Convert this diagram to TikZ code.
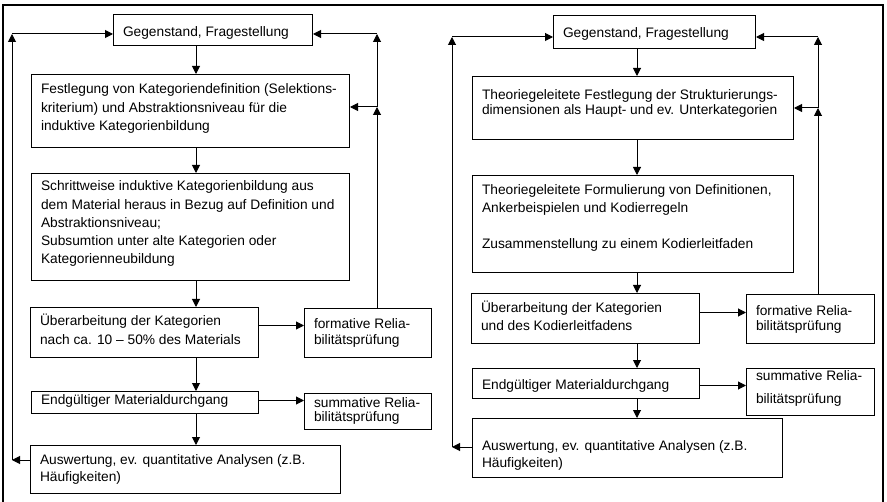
\documentclass[tikz,border=0pt]{standalone}
\usepackage{fontspec}
\setmainfont{Liberation Sans}
\usetikzlibrary{arrows.meta}

% Textfeld: Hoehe, Breite, Zeilenabstand, erste Grundlinie, Text
\newcommand{\feld}[5]{\parbox[c][#1][t]{#2}{\raggedright\fontsize{13.8}{#3}\selectfont\rule{0pt}{#4}#5}}

\tikzset{
    stufe/.style={draw, line width=1bp, anchor=north west, inner xsep=9.5bp, inner ysep=2bp},
    pfeil/.style={line width=1bp, -{Triangle[length=8bp,width=8bp]}},
}

\begin{document}
\begin{tikzpicture}[x=1bp, y=-1bp]
    \useasboundingbox (0,0) rectangle (887,502);
    \draw[line width=1.5bp] (3,502) -- (3,5) -- (883,5) -- (883,502);

    % links: induktive Kategorienbildung
    \node[stufe] (L1) at (113,14) {\feld{27bp}{180bp}{18.5bp}{19.6bp}{Gegenstand, Fragestellung}};
    \node[stufe] (L2) at (31,74) {\feld{69bp}{299bp}{18.7bp}{16.9bp}{Festlegung von Kategoriendefinition (Selektions-\\kriterium) und Abstraktionsniveau für die\\induktive Kategorienbildung}};
    \node[stufe] (L3) at (31,173) {\feld{103bp}{299bp}{18.3bp}{15.3bp}{Schrittweise induktive Kategorienbildung aus\\dem Material heraus in Bezug auf Definition und\\Abstraktionsniveau;\\Subsumtion unter alte Kategorien oder\\Kategorienneubildung}};
    \node[stufe] (L4) at (30,307) {\feld{46bp}{209bp}{18.3bp}{16.3bp}{Überarbeitung der Kategorien\\nach ca. 10 \textendash\ 50\% des Materials}};
    \node[stufe] (L5) at (304,308) {\feld{45bp}{108bp}{16bp}{17.6bp}{formative Relia-\\bilitätsprüfung}};
    \node[stufe] (L6) at (31,391) {\feld{18bp}{208bp}{18.5bp}{10.6bp}{Endgültiger Materialdurchgang}};
    \node[stufe] (L7) at (304,393) {\feld{32bp}{108bp}{14bp}{11.9bp}{summative Relia-\\bilitätsprüfung}};
    \node[stufe] (L8) at (30,445) {\feld{44bp}{291bp}{17bp}{16.6bp}{Auswertung, ev. quantitative Analysen (z.B.\\Häufigkeiten)}};

    \coordinate (lx) at (196,0);
    \coordinate (la1) at (12,460);
    \coordinate (la2) at (12,34);
    \coordinate (lb1) at (377,107);
    \coordinate (lb2) at (377,34);

    \draw[pfeil] (L1.south -| lx) -- (L2.north -| lx);
    \draw[pfeil] (L2.south -| lx) -- (L3.north -| lx);
    \draw[pfeil] (L3.south -| lx) -- (L4.north -| lx);
    \draw[pfeil] (L4.south -| lx) -- (L6.north -| lx);
    \draw[pfeil] (L6.south -| lx) -- (L8.north -| lx);
    \draw[pfeil] ([yshift=7bp]L4.east) -- ([yshift=7bp]L4.east -| L5.west);
    \draw[pfeil] ([yshift=2bp]L6.east) -- ([yshift=2bp]L6.east -| L7.west);
    % Rueckkopplung
    \draw[pfeil] (L8.west |- la1) -- (la1);
    \draw[pfeil] (la1) -- (la2);
    \draw[pfeil] (la2) -- (L1.west |- la2);
    \draw[pfeil] (L5.north -| lb1) -- (lb1);
    \draw[pfeil] (lb1) -- (L2.east |- lb1);
    \draw[pfeil] (lb1) -- (lb2);
    \draw[pfeil] (lb2) -- (L1.east |- lb2);

    % rechts: deduktive Kategorienanwendung
    \node[stufe] (R1) at (553,15) {\feld{29bp}{183bp}{18.5bp}{19.9bp}{Gegenstand, Fragestellung}};
    \node[stufe] (R2) at (472,76) {\feld{59bp}{302bp}{15bp}{20.6bp}{Theoriegeleitete Festlegung der Strukturierungs-\\dimensionen als Haupt- und ev. Unterkategorien}};
    \node[stufe] (R3) at (472,175) {\feld{93bp}{302bp}{18.3bp}{16.6bp}{Theoriegeleitete Formulierung von Definitionen,\\Ankerbeispielen und Kodierregeln\\[18.3bp]Zusammenstellung zu einem Kodierleitfaden}};
    \node[stufe] (R4) at (471,293) {\feld{46bp}{209bp}{18.4bp}{16.9bp}{Überarbeitung der Kategorien\\und des Kodierleitfadens}};
    \node[stufe] (R5) at (746,294) {\feld{45bp}{109bp}{15bp}{19.3bp}{formative Relia-\\bilitätsprüfung}};
    \node[stufe] (R6) at (472,368) {\feld{26bp}{208bp}{18.5bp}{18.6bp}{Endgültiger Materialdurchgang}};
    \node[stufe] (R7) at (746,368) {\feld{43bp}{109bp}{23bp}{10.3bp}{summative Relia-\\bilitätsprüfung}};
    \node[stufe] (R8) at (472,418) {\feld{55bp}{291bp}{16.7bp}{30.3bp}{Auswertung, ev. quantitative Analysen (z.B.\\Häufigkeiten)}};

    \coordinate (rx) at (637,0);
    \coordinate (ra1) at (452,447);
    \coordinate (ra2) at (452,37);
    \coordinate (rb1) at (818,108);
    \coordinate (rb2) at (818,37);

    \draw[pfeil] (R1.south -| rx) -- (R2.north -| rx);
    \draw[pfeil] (R2.south -| rx) -- (R3.north -| rx);
    \draw[pfeil] (R3.south -| rx) -- (R4.north -| rx);
    \draw[pfeil] (R4.south -| rx) -- (R6.north -| rx);
    \draw[pfeil] (R6.south -| rx) -- (R8.north -| rx);
    \draw[pfeil] ([yshift=6bp]R4.east) -- ([yshift=6bp]R4.east -| R5.west);
    \draw[pfeil] ([yshift=-2bp]R6.east) -- ([yshift=-2bp]R6.east -| R7.west);
    % Rueckkopplung
    \draw[pfeil] (R8.west |- ra1) -- (ra1);
    \draw[pfeil] (ra1) -- (ra2);
    \draw[pfeil] (ra2) -- (R1.west |- ra2);
    \draw[pfeil] (R5.north -| rb1) -- (rb1);
    \draw[pfeil] (rb1) -- (R2.east |- rb1);
    \draw[pfeil] (rb1) -- (rb2);
    \draw[pfeil] (rb2) -- (R1.east |- rb2);
\end{tikzpicture}
\end{document}
